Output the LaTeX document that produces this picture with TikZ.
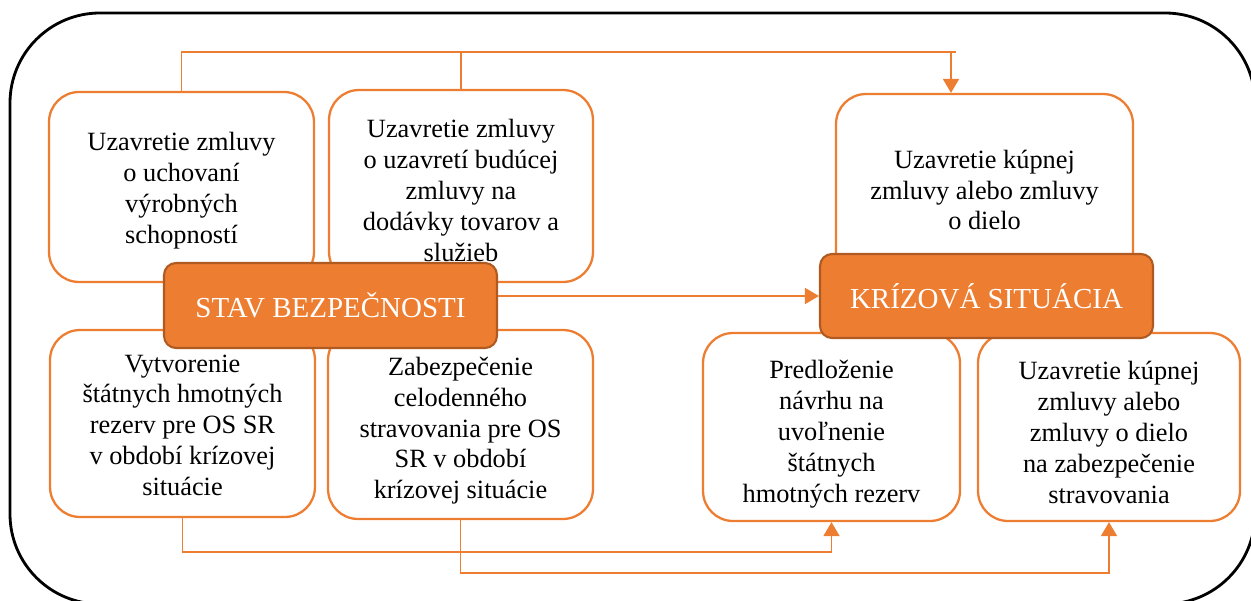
\documentclass[tikz,border=0pt]{standalone}
\usepackage{fontspec}
\setmainfont{Liberation Serif}
\usetikzlibrary{arrows.meta,calc}
\definecolor{accent}{HTML}{ED7D31}
\definecolor{accentdark}{HTML}{AE5A21}
\begin{document}
\begin{tikzpicture}[x=0.02cm,y=-0.02cm,
  item/.style={draw=accent,line width=1.3pt,fill=white,rounded corners=0.6cm},
  itemtext/.style={align=center,inner sep=2pt,font=\fontsize{15}{17.6}\selectfont},
  phase/.style={draw=accentdark,line width=1.2pt,fill=accent,rounded corners=0.24cm,
    text=white,minimum width=6.66cm,font=\fontsize{16.5}{19}\selectfont},
  link/.style={draw=accent,line width=1pt},
  arrowlink/.style={link,-{Triangle[length=0.28cm,width=0.32cm]}}]
\useasboundingbox (0,0) rectangle (1251,601);
\clip (0,0) rectangle (1251,601);
% outer frame
\draw[line width=1.6pt,rounded corners=1.8cm] (10,13) rectangle (1255,604);

% activities in the state of security
\node[item,minimum width=5.3cm,minimum height=3.8cm,
  label={[itemtext,yshift=-2pt]center:Uzavretie zmluvy\\o uchovaní\\výrobných\\schopností}]
  (a) at (181.5,187) {};
\node[item,minimum width=5.28cm,minimum height=3.84cm,
  label={[itemtext,yshift=-2.5pt]center:Uzavretie zmluvy\\o uzavretí budúcej\\zmluvy na\\dodávky tovarov a\\služieb}]
  (b) at (461,186) {};
\node[item,minimum width=5.3cm,minimum height=3.74cm,
  label={[itemtext,yshift=-1pt]center:Vytvorenie\\štátnych hmotných\\rezerv pre OS SR\\v období krízovej\\situácie}]
  (c) at (182.5,423.5) {};
\node[item,minimum width=5.3cm,minimum height=3.78cm,
  label={[itemtext,yshift=-3.5pt]center:Zabezpečenie\\celodenného\\stravovania pre OS\\SR v období\\krízovej situácie}]
  (d) at (460.5,424.5) {};

% activities in the crisis situation
\node[item,minimum width=5.94cm,minimum height=3.84cm,
  label={[itemtext]center:Uzavretie kúpnej\\zmluvy alebo zmluvy\\o dielo}]
  (e) at (984.5,190) {};
\node[item,minimum width=5.14cm,minimum height=3.76cm,
  label={[itemtext,yshift=-4pt]center:Predloženie\\návrhu na\\uvoľnenie\\štátnych\\hmotných rezerv}]
  (f) at (831.5,427) {};
\node[item,minimum width=5.24cm,minimum height=3.76cm,
  label={[itemtext,yshift=-3pt]center:Uzavretie kúpnej\\zmluvy alebo\\zmluvy o dielo\\na zabezpečenie\\stravovania}]
  (g) at (1109,427) {};

% the two states
\node[phase,minimum height=1.7cm] (stav) at (330.5,305.5) {STAV BEZPEČNOSTI};
\node[phase,minimum height=1.68cm] (kriz) at (986.5,296) {KRÍZOVÁ SITUÁCIA};

% connectors
\coordinate (top) at (951,52);
\draw[link] (a.north) |- ($(top)+(5,0)$);
\draw[link] (b.north) -- (b.north |- top);
\draw[arrowlink] (top) -- (top |- e.north);
\draw[arrowlink] (stav.east |- kriz.west) -- (kriz.west);
\draw[arrowlink] (c.south) |- (f.south |- 0,552) -- (f.south);
\draw[arrowlink] (d.south) |- (g.south |- 0,573) -- (g.south);
\end{tikzpicture}
\end{document}
